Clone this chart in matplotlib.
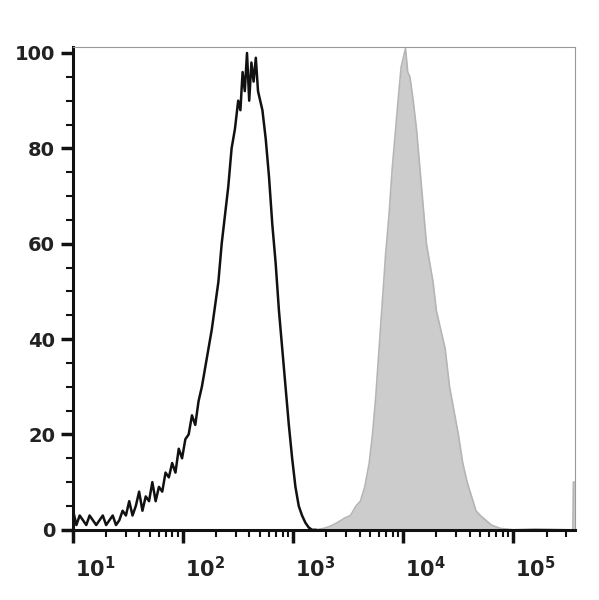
import matplotlib
matplotlib.use("Agg")
import matplotlib.pyplot as plt
import numpy as np

# control histogram (log10 of intensity, % of max)
ctrl_logx = [1.00,1.03,1.06,1.09,1.12,1.15,1.18,1.21,1.24,1.27,1.30,1.33,1.36,1.39,1.42,1.45,1.48,1.51,1.54,1.57,1.60,1.63,1.66,1.69,1.72,1.75,1.78,1.81,1.84,1.87,1.90,1.93,1.96,1.99,2.02,2.05,2.08,2.11,2.14,2.17,2.20,2.23,2.26,2.29,2.32,2.35,2.38,2.41,2.44,2.47,2.50,2.52,2.54,2.56,2.58,2.60,2.62,2.64,2.66,2.68,2.70,2.72,2.75,2.78,2.81,2.84,2.87,2.90,2.93,2.96,2.99,3.02,3.05,3.08,3.11,3.14,3.17,3.20]
ctrl_y    = [4,1,3,2,1,3,2,1,2,3,1,2,3,1,2,4,3,6,3,5,8,4,7,6,10,6,9,8,12,11,14,12,17,15,19,20,24,22,27,30,34,38,42,47,52,60,66,72,80,84,90,88,96,92,100,90,98,94,99,92,90,88,82,74,64,56,46,38,30,22,15,9,5,3,1.5,0.5,0,0]

# stained histogram
stain_logx = [3.20,3.28,3.34,3.40,3.47,3.52,3.57,3.61,3.65,3.69,3.72,3.75,3.78,3.81,3.84,3.87,3.90,3.93,3.96,3.98,4.00,4.02,4.04,4.06,4.09,4.12,4.15,4.18,4.21,4.24,4.27,4.30,4.34,4.38,4.42,4.46,4.50,4.54,4.58,4.62,4.66,4.70,4.75,4.80,4.88,5.00,5.20,5.50,5.54,5.545,5.56]
stain_y    = [0,0.3,0.8,1.5,2.5,3,5,6,9,14,20,28,38,48,58,66,76,84,92,97,99,101,96,95,90,84,76,68,60,56,52,46,42,38,30,25,20,14,10,7,4,3,2,1,0.3,0,0.2,0,0,10,10]

fig = plt.figure(figsize=(5.99, 6.0), dpi=100)
ax = fig.add_axes([0.122, 0.117, 0.838, 0.805])

sx = 10 ** np.array(stain_logx)
ax.fill_between(sx, stain_y, 0, color="#cccccc", linewidth=0, zorder=1)
ax.plot(sx, stain_y, color="#b5b5b5", linewidth=1.2, zorder=2)
ax.plot(10 ** np.array(ctrl_logx), ctrl_y, color="#111111", linewidth=1.8, zorder=3)

ax.set_xscale("log")
ax.set_xlim(10 ** 1.0, 10 ** 5.56)
ax.set_ylim(0, 101.3)

for s in ["top", "right"]:
    ax.spines[s].set_color("#999999")
    ax.spines[s].set_linewidth(0.8)
for s in ["left", "bottom"]:
    ax.spines[s].set_color("#111111")
    ax.spines[s].set_linewidth(2.2)

yt = [0, 20, 40, 60, 80, 100]
ax.set_yticks(yt)
ax.set_yticklabels([str(v) for v in yt], fontsize=14, fontweight="bold", color="#222222")
ax.set_yticks(np.arange(0, 101, 5), minor=True)
ax.tick_params(axis="y", which="major", length=9, width=2.5, color="#111111", pad=4)
ax.tick_params(axis="y", which="minor", length=5, width=1.5, color="#111111")

decades = [1, 2, 3, 4, 5]
ax.set_xticks([10 ** d for d in decades])
ax.set_xticklabels([])
ax.xaxis.set_minor_locator(matplotlib.ticker.LogLocator(base=10, subs=np.arange(2, 10)))
ax.xaxis.set_minor_formatter(matplotlib.ticker.NullFormatter())
ax.tick_params(axis="x", which="major", length=9, width=2.5, color="#111111")
ax.tick_params(axis="x", which="minor", length=5, width=1.5, color="#111111")
for d in decades:
    ax.text(10 ** (d + 0.2), -5.5, r"$\mathbf{10^{%d}}$" % d, ha="center", va="top",
            fontsize=15, color="#222222")

fig.savefig("out.png", dpi=100)
